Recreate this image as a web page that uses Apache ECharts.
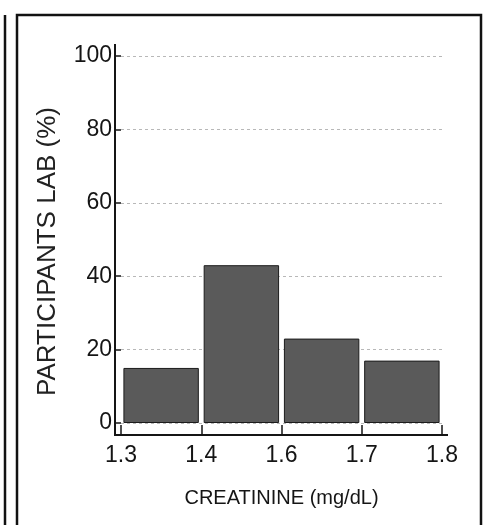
<!DOCTYPE html>
<html>
<head>
<meta charset="utf-8">
<script src="https://cdn.jsdelivr.net/npm/echarts@6/dist/echarts.min.js"></script>
<style>
html,body{margin:0;padding:0;background:#fff;}
#c{width:489px;height:525px;}
</style>
</head>
<body>
<div id="c"></div>
<script>
// ---- data ----
const tickLabels = ['1.3', '1.4', '1.6', '1.7', '1.8'];
const binLabels = ['1.3-1.4', '1.4-1.6', '1.6-1.7', '1.7-1.8'];
const participantsPct = [15, 43, 23, 17];
const yTicks = [0, 20, 40, 60, 80, 100];

const narrow = '"Liberation Sans Narrow", "Arial Narrow", "Liberation Sans", Arial, sans-serif';
const ink = '#151515';

const chart = echarts.init(document.getElementById('c'), null, {renderer: 'canvas'});

const G = {left: 121, right: 47, top: 56, bottom: 102};

chart.setOption({
  backgroundColor: '#ffffff',
  animation: false,
  grid: {left: G.left, right: G.right, top: G.top, bottom: G.bottom, containLabel: false},
  xAxis: [
    {
      type: 'category',
      data: binLabels,
      position: 'bottom',
      offset: 12,
      axisLine: {show: false, onZero: false},
      axisTick: {show: false},
      axisLabel: {show: false},
      splitLine: {show: false}
    },
    {
      type: 'value',
      min: 0, max: tickLabels.length - 1, interval: 1,
      position: 'bottom',
      offset: 12,
      axisLine: {show: true, onZero: false, lineStyle: {color: ink, width: 2}},
      axisTick: {show: true, inside: true, length: 10, lineStyle: {color: ink, width: 1.5}},
      axisLabel: {
        show: true, margin: 9, color: ink, fontSize: 23, fontFamily: narrow,
        formatter: v => tickLabels[v] !== undefined ? tickLabels[v] : ''
      },
      splitLine: {show: false},
      name: 'CREATININE (mg/dL)',
      nameLocation: 'middle',
      nameGap: 53,
      nameTextStyle: {color: ink, fontSize: 20, fontFamily: narrow}
    }
  ],
  yAxis: {
    type: 'value',
    min: yTicks[0], max: yTicks[yTicks.length - 1], interval: 20,
    offset: 6,
    axisLine: {show: true, onZero: false, lineStyle: {color: ink, width: 2}},
    axisTick: {show: true, inside: true, length: 6, lineStyle: {color: ink, width: 1.5}},
    axisLabel: {show: true, margin: 3, color: ink, fontSize: 23, fontFamily: narrow},
    splitLine: {show: true, lineStyle: {color: '#b8b8b8', width: 1, type: [3, 3]}},
    name: 'PARTICIPANTS LAB (%)',
    nameLocation: 'middle',
    nameGap: 54,
    nameTextStyle: {color: '#222', fontSize: 26, fontFamily: '"Liberation Sans", Arial, sans-serif', padding: [0, 24, 0, 0]}
  },
  series: [{
    type: 'bar',
    xAxisIndex: 0,
    data: participantsPct,
    barCategoryGap: '6%',
    itemStyle: {color: '#5a5a5a', borderColor: '#1c1c1c', borderWidth: 1}
  }],
  graphic: [
    {type: 'line', shape: {x1: 5, y1: 15, x2: 5, y2: 530}, style: {stroke: '#111', lineWidth: 2.5}},
    {type: 'rect', shape: {x: 17, y: 15, width: 464, height: 530}, style: {fill: 'none', stroke: '#111', lineWidth: 2.5}},
    // axis-line extensions at the corners
    {type: 'line', shape: {x1: 115, y1: 44, x2: 115, y2: 57}, style: {stroke: ink, lineWidth: 2}},
    {type: 'line', shape: {x1: 115, y1: 423, x2: 115, y2: 436}, style: {stroke: ink, lineWidth: 2}},
    {type: 'line', shape: {x1: 114, y1: 435, x2: 121, y2: 435}, style: {stroke: ink, lineWidth: 2}},
    {type: 'line', shape: {x1: 442, y1: 435, x2: 448, y2: 435}, style: {stroke: ink, lineWidth: 2}}
  ]
});
</script>
</body>
</html>
